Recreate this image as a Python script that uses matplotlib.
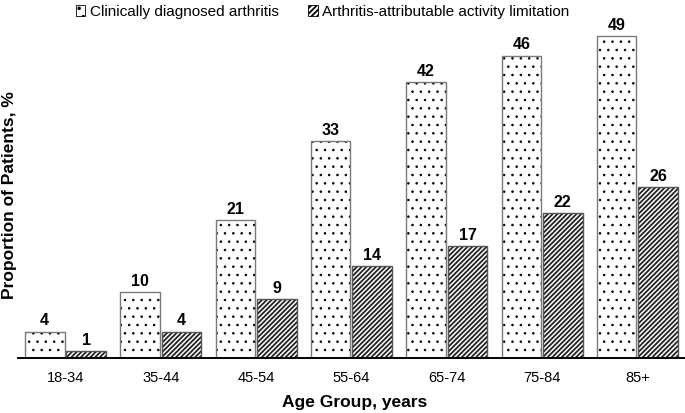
import matplotlib
matplotlib.use("Agg")
import matplotlib.pyplot as plt
import matplotlib.patches as mpatches
import numpy as np

plt.rcParams['font.family'] = ['Liberation Sans', 'DejaVu Sans']
plt.rcParams['hatch.linewidth'] = 1.3

age_groups = ["18-34", "35-44", "45-54", "55-64", "65-74", "75-84", "85+"]
arthritis = [4, 10, 21, 33, 42, 46, 49]
limitation = [1, 4, 9, 14, 17, 22, 26]
series_names = ["Clinically diagnosed arthritis", "Arthritis-attributable activity limitation"]

fig = plt.figure(figsize=(6.85, 4.13), dpi=100)
ax = fig.add_axes([0.026, 0.1332, 0.974, 0.7954])

x = np.arange(len(age_groups))
w = 0.415
gap = 0.01
pos1 = x - w / 2 - gap
pos2 = x + w / 2 + gap

# hatch fill first, outline on top
with plt.rc_context({'hatch.linewidth': 0.6}):
    dots = ax.bar(pos1, arthritis, w, color="white", edgecolor="black", hatch="..", linewidth=0)
for b in dots:
    if hasattr(b, "set_hatch_linewidth"):
        b.set_hatch_linewidth(0.6)
ax.bar(pos2, limitation, w, color="white", edgecolor="#222222", hatch="///////", linewidth=0)
ax.bar(pos1, arthritis, w, fill=False, edgecolor="#7a7a7a", linewidth=1.0)
ax.bar(pos2, limitation, w, fill=False, edgecolor="#555555", linewidth=1.0)

for p, v in zip(pos1, arthritis):
    ax.text(p, v + 0.5, str(v), ha="center", va="bottom", fontsize=11.5, fontweight="bold")
for p, v in zip(pos2, limitation):
    ax.text(p, v + 0.5, str(v), ha="center", va="bottom", fontsize=11.5, fontweight="bold")

ax.set_xlim(-0.5, 6.5)
ax.set_ylim(0, 50)
ax.set_yticks([])
ax.set_xticks(x)
ax.set_xticklabels(age_groups, fontsize=10.5)
ax.tick_params(axis="x", length=0, pad=9.5)
for s in ["top", "right", "left"]:
    ax.spines[s].set_visible(False)
ax.spines["bottom"].set_linewidth(1.4)

ax.set_xlabel("Age Group, years", fontsize=12.5, fontweight="bold")
ax.xaxis.set_label_coords(0.505, -0.113)
fig.text(0.014, 0.528, "Proportion of Patients, %", rotation=90, ha="center", va="center",
         fontsize=12.5, fontweight="bold")

with plt.rc_context({'hatch.linewidth': 0.6}):
    h1 = mpatches.Patch(facecolor="white", edgecolor="black", hatch="..", linewidth=0.6, label=series_names[0])
h2 = mpatches.Patch(facecolor="white", edgecolor="black", hatch="//////", linewidth=0.6, label=series_names[1])
fig.legend(handles=[h1, h2], loc="center", bbox_to_anchor=(0.471, 0.971), ncol=2,
           frameon=False, fontsize=11, handlelength=0.65, handleheight=0.7,
           handletextpad=0.3, columnspacing=1.9, borderpad=0, borderaxespad=0)

fig.savefig("out.png", dpi=100)
